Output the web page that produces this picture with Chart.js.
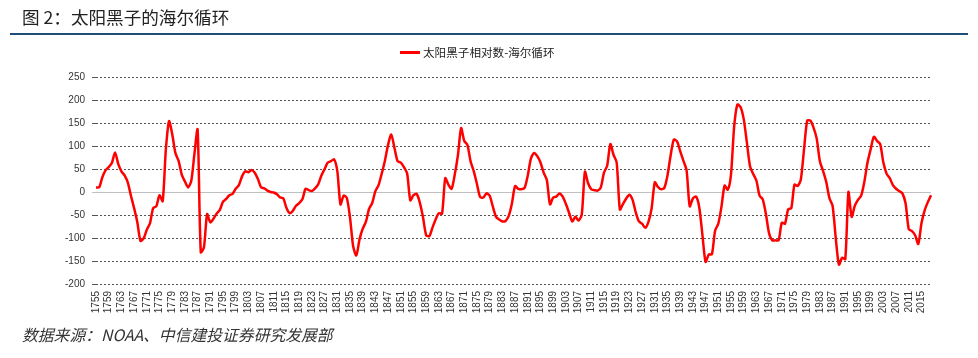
<!DOCTYPE html>
<html><head><meta charset="utf-8">
<script src="https://cdn.jsdelivr.net/npm/chart.js@4.4.0/dist/chart.umd.min.js"></script>
<style>
html,body{margin:0;padding:0;background:#fff;width:978px;height:358px;overflow:hidden;}
#wrap{position:relative;width:978px;height:358px;}
#title{position:absolute;left:22px;top:6px;font-size:17.6px;font-family:"Noto Sans CJK SC",sans-serif;color:#222;line-height:22px;white-space:nowrap;}
#rule{position:absolute;left:10px;top:33px;width:958px;height:2px;background:#1F4E79;}
#legend{position:absolute;top:44px;left:400px;height:16px;white-space:nowrap;font-size:11.6px;font-family:"Noto Sans CJK SC",sans-serif;color:#222;line-height:16px;}
#legend .bar{display:inline-block;width:20px;height:3px;background:#FF0000;vertical-align:middle;margin-right:3px;position:relative;top:-1px;}
#foot{position:absolute;left:22px;top:325px;font-size:15.8px;font-style:italic;font-family:"Noto Sans CJK SC",sans-serif;color:#333;line-height:20px;white-space:nowrap;}
canvas{position:absolute;left:0;top:0;}
</style></head>
<body><div id="wrap">
<canvas id="c" width="978" height="358" style="width:978px;height:358px"></canvas>
<div id="title">图 2：太阳黑子的海尔循环</div>
<div id="rule"></div>
<div id="legend"><span class="bar"></span>太阳黑子相对数-海尔循环</div>
<div id="foot">数据来源：NOAA、中信建投证券研究发展部</div>
</div>
<script>
const seriesName = '太阳黑子相对数-海尔循环';
const firstYear = 1755;
const lastYear = 2018;
const tickEvery = 4;
const yTicks = [-200, -150, -100, -50, 0, 50, 100, 150, 200, 250];
const years = [];
for (let y = firstYear; y <= lastYear; y++) years.push(String(y));
const haleValues = [
  10, 10, 32, 47, 54, 63, 86, 61, 45, 36,          // 1755-1764
  21, -8, -35, -65, -106, -101, -82, -68, -35, -31, // 1765-1774
  -7, -20, 92, 154, 126, 85, 68, 38, 23, 10,        // 1775-1784
  24, 83, 136, -131, -120, -48, -66, -58, -47, -39, // 1785-1794
  -21, -15, -7, -4, 7, 15, 34, 45, 43, 48,          // 1795-1804
  42, 28, 10, 8, 3, 0, -1, -5, -12, -14,            // 1805-1814
  -35, -46, -41, -30, -24, -16, 7, 4, 2, 8,         // 1815-1824
  17, 36, 50, 64, 67, 71, 46, -27, -8, -13,         // 1825-1834
  -55, -118, -138, -103, -80, -65, -37, -24, 2, 15, // 1835-1844
  40, 68, 103, 125, 96, 67, 64, 54, 40, -18,        // 1845-1854
  -7, -4, -23, -55, -94, -96, -77, -59, -46, -47,   // 1855-1864
  30, 16, 7, 38, 80, 139, 111, 102, 66, 45,         // 1865-1874
  17, -11, -12, -3, -8, -32, -54, -60, -64, -63,    // 1875-1884
  -52, -25, 13, 7, 6, 9, 36, 73, 85, 78,            // 1885-1894
  64, 42, 26, -27, -12, -10, -3, -10, -26, -45,     // 1895-1904
  -64, -54, -62, -49, 44, 19, 6, 4, 3, 10,          // 1905-1914
  42, 57, 104, 81, 64, -38, -26, -14, -6, -17,      // 1915-1924
  -44, -64, -69, -78, -65, -36, 21, 11, 6, 9,       // 1925-1934
  36, 80, 114, 110, 89, 68, 48, -31, -14, -10,      // 1935-1944
  -33, -93, -152, -136, -135, -84, -69, -32, 14, 5, // 1945-1954
  38, 142, 190, 185, 159, 108, 56, 39, 25, -8,      // 1955-1964
  -16, -48, -90, -105, -105, -105, -67, -69, -38, -35, // 1965-1974
  16, 13, 27, 92, 155, 155, 140, 116, 67, 46,       // 1975-1984
  22, -13, -30, -100, -158, -143, -146, 0, -54, -30, // 1985-1994
  -17, -8, 22, 64, 93, 120, 111, 104, 64, 40,       // 1995-2004
  30, 15, 7, 2, -3, -25, -81, -85, -94, -113,       // 2005-2014
  -68, -40, -22, -7                                 // 2015-2018
];

const FONT = '"Liberation Sans", Arial, sans-serif';
new Chart(document.getElementById('c'), {
  type: 'line',
  data: {
    labels: years,
    datasets: [{
      label: seriesName,
      data: haleValues,
      borderColor: '#FF0000',
      backgroundColor: '#FF0000',
      borderWidth: 2.5,
      pointRadius: 0,
      tension: 0.25,
      fill: false
    }]
  },
  options: {
    responsive: false,
    animation: false,
    layout: { padding: { left: 0, right: 47, top: 77, bottom: 34 } },
    plugins: { legend: { display: false }, tooltip: { enabled: false } },
    scales: {
      x: {
        type: 'category',
        offset: false,
        grid: { display: false, drawTicks: false },
        border: { display: false },
        ticks: {
          autoSkip: false, maxRotation: 90, minRotation: 90, padding: 7,
          font: { family: FONT, size: 10 }, color: '#333',
          callback: function (v, i) { return i % tickEvery === 0 ? this.getLabelForValue(v) : null; }
        },
        afterFit: s => { s.height = 40; }
      },
      y: {
        min: yTicks[0], max: yTicks[yTicks.length - 1],
        afterBuildTicks: s => { s.ticks = yTicks.map(v => ({ value: v })); },
        ticks: { padding: 7, font: { family: FONT, size: 10 }, color: '#333' },
        grid: {
          color: ctx => (ctx.tick && ctx.tick.value === 0) ? '#c0c0c0' : '#555555',
          lineWidth: 1, tickLength: 4, drawTicks: true
        },
        border: { display: false, dash: ctx => (ctx.tick && ctx.tick.value === 0) ? [] : [2, 2] },
        afterFit: s => { s.width = 96; }
      }
    }
  }
});
</script>
</body></html>
